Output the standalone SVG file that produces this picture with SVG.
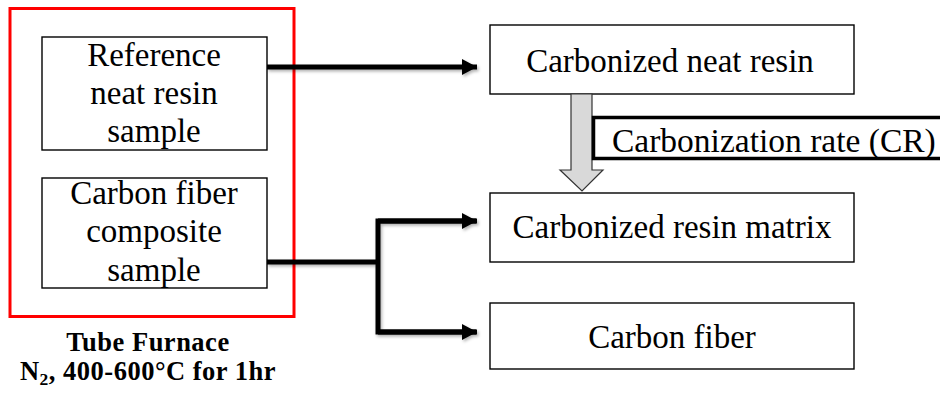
<svg xmlns="http://www.w3.org/2000/svg" width="940" height="398" viewBox="0 0 940 398">
  <style>
    .box { fill: #fff; stroke: #000; stroke-width: 1.4; }
    text { font-family: 'Liberation Serif', 'DejaVu Serif', serif; fill: #000; }
    .lbl { font-size: 33px; text-anchor: middle; }
    .cap { font-size: 26.5px; font-weight: bold; text-anchor: middle; letter-spacing: 0.5px; }
    .wire { fill: none; stroke: #000; stroke-width: 5; stroke-linejoin: miter; }
  </style>
  <defs>
    <marker id="head" markerUnits="userSpaceOnUse" markerWidth="16" markerHeight="16" refX="15" refY="8" orient="auto">
      <path d="M0,0 L15,8 L0,16 Z" fill="#000"/>
    </marker>
    <filter id="shadow" x="-5%" y="-20%" width="110%" height="140%">
      <feDropShadow dx="1.5" dy="2" stdDeviation="1.5" flood-color="#000" flood-opacity="0.3"/>
    </filter>
  </defs>

  <!-- furnace enclosure -->
  <g id="furnace">
    <rect x="10" y="8.5" width="284" height="308" fill="none" stroke="#ff0000" stroke-width="3"/>
    <text class="cap" x="148" y="350.5">Tube Furnace</text>
    <text class="cap" x="148" y="380">N<tspan font-size="17.5" dy="5">2</tspan><tspan dy="-5">, 400-600°C for 1hr</tspan></text>
  </g>

  <g id="neat-sample">
    <rect class="box" x="42" y="37" width="225" height="113"/>
    <text class="lbl" x="154" y="66">Reference</text>
    <text class="lbl" x="154" y="104">neat resin</text>
    <text class="lbl" x="154" y="142">sample</text>
  </g>

  <g id="composite-sample">
    <rect class="box" x="42" y="178" width="225" height="110"/>
    <text class="lbl" x="154" y="204">Carbon fiber</text>
    <text class="lbl" x="154" y="242">composite</text>
    <text class="lbl" x="154" y="281">sample</text>
  </g>

  <g id="carbonized-neat-resin">
    <rect class="box" x="490" y="25" width="364" height="69"/>
    <text class="lbl" x="670" y="72">Carbonized neat resin</text>
  </g>

  <g id="carbonized-resin-matrix">
    <rect class="box" x="490" y="193" width="364" height="69"/>
    <text class="lbl" x="672" y="238">Carbonized resin matrix</text>
  </g>

  <g id="carbon-fiber">
    <rect class="box" x="490" y="303" width="364" height="66"/>
    <text class="lbl" x="672" y="348">Carbon fiber</text>
  </g>

  <g id="connectors">
    <g filter="url(#shadow)">
      <path class="wire" d="M267,67 H477" marker-end="url(#head)"/>
      <path class="wire" d="M267,262 H378"/>
      <path class="wire" d="M476,221 H378 V332 H476"/>
      <path class="wire" d="M378,221 H477" marker-end="url(#head)"/>
      <path class="wire" d="M378,332 H477" marker-end="url(#head)"/>
    </g>
    <!-- block arrow for carbonization rate -->
    <path d="M571,94 H592 V170 H603 L582,191 L560,170 H571 Z" fill="#d9d9d9" stroke="#333" stroke-width="1.2"/>
  </g>

  <g id="carbonization-rate">
    <rect x="593.5" y="117.5" width="360" height="41" fill="#fff" stroke="#000" stroke-width="3.5"/>
    <text x="612" y="152" font-size="33.5">Carbonization rate (CR)</text>
  </g>
</svg>
